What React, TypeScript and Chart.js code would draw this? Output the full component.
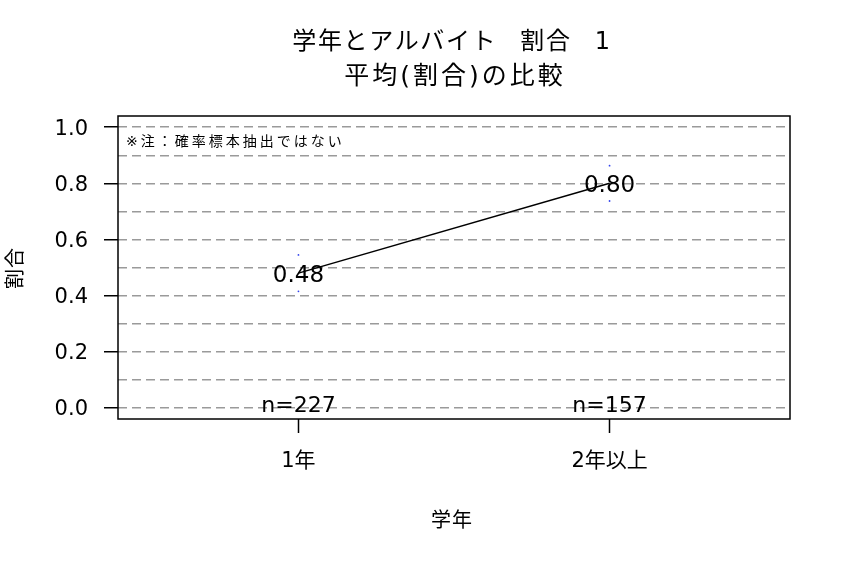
import React, { useEffect, useRef } from "react";
import { Chart, registerables } from "chart.js";

Chart.register(...registerables);

const categories = ["1年", "2年以上"];
const means = [0.48, 0.8];
const lowerCI = [0.415, 0.737];
const upperCI = [0.545, 0.863];
const counts = [227, 157];
const gridValues = [0, 0.1, 0.2, 0.3, 0.4, 0.5, 0.6, 0.7, 0.8, 0.9, 1.0];
const labeledTicks = [0, 0.2, 0.4, 0.6, 0.8, 1.0];
const titleLines = ["学年とアルバイト 割合 1", "平均(割合)の比較"];
const noteText = "※注：確率標本抽出ではない";
const xTitle = "学年";
const yTitle = "割合";

const FONT = '"DejaVu Sans", "Noto Sans CJK JP", sans-serif';

const isLabeled = (v: number) => labeledTicks.some((t) => Math.abs(t - v) < 1e-9);

export default function App() {
  const ref = useRef<HTMLCanvasElement | null>(null);

  useEffect(() => {
    document.body.style.margin = "0";
    const canvas = ref.current;
    if (!canvas) return;

    const overlay = {
      id: "overlay",
      afterDraw(chart: any) {
        const { ctx, chartArea: a } = chart;
        const x = chart.scales.x;
        const y = chart.scales.y;
        ctx.save();
        ctx.strokeStyle = "#000";
        ctx.lineWidth = 1.5;
        ctx.setLineDash([]);
        ctx.strokeRect(a.left, a.top, a.right - a.left, a.bottom - a.top);

        const cx = (a.left + a.right) / 2 - 2;
        ctx.fillStyle = "#000";
        ctx.textAlign = "center";
        ctx.textBaseline = "middle";
        ctx.font = `24px ${FONT}`;
        ctx.letterSpacing = "1.6px";
        ctx.wordSpacing = "14px";
        ctx.fillText(titleLines[0], cx, 43);
        ctx.font = `25px ${FONT}`;
        ctx.letterSpacing = "3px";
        ctx.fillText(titleLines[1], cx + 3, 77);
        ctx.wordSpacing = "0px";

        ctx.font = `20px ${FONT}`;
        ctx.letterSpacing = "1px";
        ctx.fillText(xTitle, cx, 522);
        ctx.save();
        ctx.translate(17, 268);
        ctx.rotate(-Math.PI / 2);
        ctx.fillText(yTitle, 0, 0);
        ctx.restore();

        ctx.textAlign = "left";
        ctx.font = `14px ${FONT}`;
        ctx.letterSpacing = "3px";
        ctx.fillText(noteText, a.left + 8, y.getPixelForValue(0.95) + 1);
        ctx.letterSpacing = "0px";

        ctx.textAlign = "center";
        ctx.font = `23px ${FONT}`;
        means.forEach((m, i) => {
          ctx.fillText(m.toFixed(2), x.getPixelForValue(i + 1), y.getPixelForValue(m) + 3);
        });
        ctx.font = `22px ${FONT}`;
        counts.forEach((n, i) => {
          ctx.fillText(`n=${n}`, x.getPixelForValue(i + 1), y.getPixelForValue(0) - 1);
        });
        ctx.restore();
      },
    };

    const chart = new Chart(canvas, {
      type: "scatter",
      data: {
        datasets: [
          {
            type: "line",
            data: means.map((m, i) => ({ x: i + 1, y: m })),
            borderColor: "#000",
            borderWidth: 1.5,
            pointRadius: 0,
            showLine: true,
          } as any,
          {
            data: [
              ...lowerCI.map((v, i) => ({ x: i + 1, y: v })),
              ...upperCI.map((v, i) => ({ x: i + 1, y: v })),
            ],
            backgroundColor: "#3344ee",
            borderColor: "#3344ee",
            pointRadius: 0.9,
            borderWidth: 0,
          },
        ],
      },
      options: {
        responsive: false,
        animation: false,
        events: [],
        layout: { padding: { top: 116, right: 60, left: 0, bottom: 0 } },
        plugins: { legend: { display: false }, tooltip: { enabled: false }, title: { display: false } },
        scales: {
          x: {
            type: "linear",
            min: 0.42,
            max: 2.58,
            afterFit(scale: any) {
              scale.height = 147;
            },
            afterBuildTicks(scale: any) {
              scale.ticks = categories.map((_, i) => ({ value: i + 1 }));
            },
            ticks: {
              autoSkip: false,
              maxRotation: 0,
              padding: 16,
              color: "#000",
              font: { family: FONT, size: 21 },
              callback: (v: any) => categories[Math.round(Number(v)) - 1] ?? "",
            },
            grid: {
              drawOnChartArea: false,
              drawTicks: true,
              tickLength: 14,
              tickColor: "#000",
              tickWidth: 1.5,
            },
            border: { display: false },
          },
          y: {
            type: "linear",
            min: -0.04,
            max: 1.04,
            afterFit(scale: any) {
              scale.width = 118;
            },
            afterBuildTicks(scale: any) {
              scale.ticks = gridValues.map((v) => ({ value: v }));
            },
            ticks: {
              autoSkip: false,
              padding: 16,
              labelOffset: 2,
              color: "#000",
              font: { family: FONT, size: 21 },
              callback: (v: any) => (isLabeled(Number(v)) ? Number(v).toFixed(1) : ""),
            },
            grid: {
              color: "#9a9a9a",
              lineWidth: 1.5,
              drawTicks: true,
              tickLength: 14,
              tickWidth: 1.5,
              tickColor: (c: any) => (c.tick && isLabeled(c.tick.value) ? "#000" : "rgba(0,0,0,0)"),
              tickBorderDash: [],
            } as any,
            border: { display: false, dash: [9, 5] },
          },
        },
      } as any,
      plugins: [overlay],
    });

    return () => chart.destroy();
  }, []);

  return (
    <div style={{ width: 850, height: 566 }}>
      <canvas ref={ref} width={850} height={566} style={{ display: "block" }} />
    </div>
  );
}
